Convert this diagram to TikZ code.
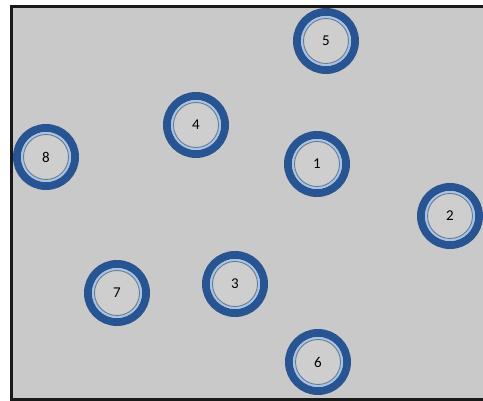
\documentclass[tikz,border=0pt]{standalone}
\usepackage{fontspec}
\setmainfont{Carlito}
\definecolor{bg}{HTML}{C9C9C9}
\definecolor{innerfill}{HTML}{CECECE}
\definecolor{ringdark}{HTML}{285592}
\definecolor{ringlight}{HTML}{A5C4EA}
\definecolor{innerline}{HTML}{6A7A8E}
\tikzset{
  ringnode/.style={circle, minimum size=58pt, inner sep=0pt, draw=ringdark, line width=8pt, fill=innerfill,
    font=\fontsize{15}{16}\selectfont},
  lightring/.style={circle, minimum size=48pt, inner sep=0pt, draw=ringlight, line width=2pt},
  innerring/.style={circle, minimum size=45pt, inner sep=0pt, draw=innerline, line width=0.9pt}
}
\begin{document}
\begin{tikzpicture}[x=1pt,y=-1pt]
\useasboundingbox (0,0) rectangle (483,401);
\fill[bg] (11,6) rectangle (483,399);
\draw[line width=3pt, black!90] (483,6.5) -- (11.5,6.5) -- (11.5,399.5) -- (483,399.5);
\foreach \n/\px/\py in {5/326/41, 4/196/125, 8/46/157, 1/317/164, 2/450/216, 7/117/293, 3/235/284, 6/318/362} {
  \node[ringnode] (n\n) at (\px,\py) {\n};
  \node[lightring] (l\n) at (n\n.center) {};
  \node[innerring] (i\n) at (n\n.center) {};
}
\end{tikzpicture}
\end{document}
